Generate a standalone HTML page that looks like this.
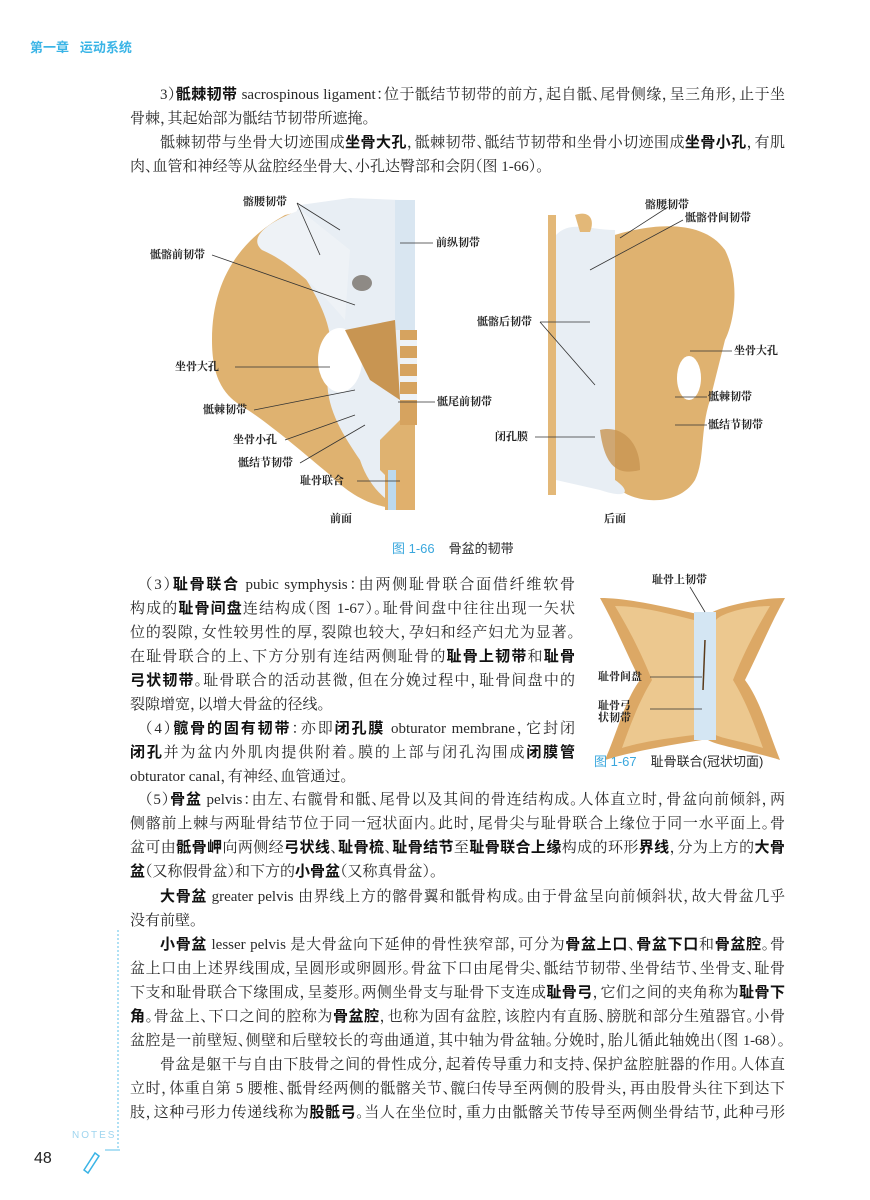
<!DOCTYPE html>
<html><head><meta charset="utf-8">
<style>
html,body{margin:0;padding:0;background:#fff;}
body{width:870px;height:1200px;position:relative;overflow:hidden;font-family:"Liberation Serif","Noto Serif CJK SC",serif;color:#2a2a2a;}
.l{position:absolute;height:24px;line-height:24px;font-size:15px;overflow:hidden;white-space:normal;font-feature-settings:"halt";}
.j{text-align:justify;text-align-last:justify;}
b{font-family:"Liberation Sans","Noto Sans CJK SC",sans-serif;font-weight:bold;color:#111;font-feature-settings:"halt";}
.lab{position:absolute;font-family:"Liberation Serif","Noto Serif CJK SC",serif;font-weight:bold;font-size:11px;color:#222;white-space:nowrap;line-height:12px;}
.cap{position:absolute;font-family:"Liberation Sans","Noto Sans CJK SC",sans-serif;font-size:13px;white-space:nowrap;}
.cap span{color:#3aa7dd;margin-right:14px;}
</style></head><body>
<div style="position:absolute;left:30px;top:37px;font-family:'Liberation Sans','Noto Sans CJK SC',sans-serif;font-weight:bold;font-size:13px;color:#3ab4e6;">第一章&nbsp;&nbsp;&nbsp;运动系统</div>

<svg width="870" height="1200" style="position:absolute;left:0;top:0">
<!-- Fig 1-66 left -->
<path d="M285,215 C240,240 212,280 212,340 C212,380 225,395 240,405 C265,420 300,450 330,475 C350,495 375,510 405,508 L415,470 L415,200 L350,200 Z" fill="#dfb270"/>
<path d="M300,205 L350,198 L400,200 L400,420 L380,440 L380,470 L400,490 L405,508 C390,505 370,490 360,460 C340,430 320,400 330,360 C335,330 320,300 300,270 C290,250 285,230 300,205Z" fill="#e8eef4"/>
<path d="M300,210 C260,225 250,240 262,250 C290,262 320,290 345,320 L350,250 Z" fill="#eef2f6"/>
<ellipse cx="340" cy="360" rx="22" ry="32" fill="#fff"/>
<rect x="395" y="200" width="20" height="130" fill="#d9e6f1"/>
<rect x="400" y="330" width="17" height="95" fill="#d6a35f"/>
<g fill="#eef2f6"><rect x="400" y="340" width="17" height="6"/><rect x="400" y="358" width="17" height="6"/><rect x="400" y="376" width="17" height="6"/><rect x="400" y="394" width="17" height="6"/></g>
<ellipse cx="362" cy="283" rx="10" ry="8" fill="#8e8a85"/>
<path d="M345,330 L395,320 L400,400 L370,380 Z" fill="#c89552"/>
<rect x="385" y="470" width="30" height="40" fill="#e0b06d"/>
<rect x="388" y="470" width="8" height="40" fill="#bcd9ee"/>
<!-- Fig 1-66 right -->
<path d="M600,240 C640,225 700,215 725,250 C740,280 735,320 725,340 L710,400 C700,430 705,460 695,480 C680,505 640,505 620,490 L600,480 Z" fill="#dfb270"/>
<rect x="548" y="215" width="8" height="280" fill="#e3b878"/>
<path d="M556,235 C570,220 590,230 615,230 L615,480 C630,490 630,500 600,490 L556,480 Z" fill="#e8eef4"/>
<path d="M575,215 C590,210 595,220 590,232 L580,232Z" fill="#e3b878"/>
<ellipse cx="689" cy="378" rx="12" ry="22" fill="#fff"/>
<path d="M600,430 C620,425 640,440 640,470 C620,475 605,470 600,430Z" fill="#c89552" opacity=".8"/>
<g stroke="#333" stroke-width="0.8" fill="none">
<path d="M297,203 L340,230 M297,203 L320,255"/>
<path d="M212,255 L355,305"/>
<path d="M400,243 L433,243"/>
<path d="M235,367 L330,367"/>
<path d="M254,410 L355,390"/>
<path d="M398,402 L435,402"/>
<path d="M285,440 L355,415"/>
<path d="M300,463 L365,425"/>
<path d="M357,481 L400,481"/>
<path d="M668,207 L620,238"/>
<path d="M683,220 L590,270"/>
<path d="M540,322 L590,322 M540,322 L595,385"/>
<path d="M690,351 L732,351"/>
<path d="M675,397 L707,397"/>
<path d="M675,425 L707,425"/>
<path d="M535,437 L595,437"/>
</g>
<!-- Fig 1-67 -->
<path d="M600,598 C630,598 670,608 702,615 L702,740 C670,745 630,752 605,760 C618,730 625,700 640,680 C625,650 615,625 600,598Z" fill="#dca865"/>
<path d="M785,598 C755,598 715,608 708,615 L708,740 C715,745 755,752 780,760 C768,730 760,700 745,680 C760,650 770,625 785,598Z" fill="#dca865"/>
<path d="M615,606 C640,606 670,614 694,620 L694,735 C670,738 640,742 622,748 C632,720 640,700 652,680 C640,650 628,628 615,606Z" fill="#ecc88f"/>
<path d="M770,606 C745,606 720,614 716,620 L716,735 C720,738 745,742 763,748 C753,720 745,700 733,680 C745,650 757,628 770,606Z" fill="#ecc88f"/>
<rect x="694" y="612" width="22" height="128" fill="#d4e6f3"/>
<path d="M705,640 L703,690" stroke="#5a3a1a" stroke-width="1.5"/>
<g stroke="#333" stroke-width="0.8"><path d="M690,587 L705,612 M650,677 L702,677 M650,709 L702,709"/></g>
<path d="M118,930 L118,1150" stroke="#5fc0ea" stroke-width="1" stroke-dasharray="2,2"/>
<path d="M105,1150 L120,1150" stroke="#5fc0ea" stroke-width="1"/>
<path d="M84,1170 L95,1153 L99,1156 L88,1173 Z" fill="none" stroke="#3ab4e6" stroke-width="1.5"/>
</svg>

<div class="lab" style="left:243px;top:196px">髂腰韧带</div>
<div class="lab" style="left:150px;top:249px">骶髂前韧带</div>
<div class="lab" style="left:436px;top:237px">前纵韧带</div>
<div class="lab" style="left:175px;top:361px">坐骨大孔</div>
<div class="lab" style="left:203px;top:404px">骶棘韧带</div>
<div class="lab" style="left:437px;top:396px">骶尾前韧带</div>
<div class="lab" style="left:233px;top:434px">坐骨小孔</div>
<div class="lab" style="left:238px;top:457px">骶结节韧带</div>
<div class="lab" style="left:300px;top:475px">耻骨联合</div>
<div class="lab" style="left:330px;top:513px">前面</div>
<div class="lab" style="left:645px;top:199px">髂腰韧带</div>
<div class="lab" style="left:685px;top:212px">骶髂骨间韧带</div>
<div class="lab" style="left:477px;top:316px">骶髂后韧带</div>
<div class="lab" style="left:734px;top:345px">坐骨大孔</div>
<div class="lab" style="left:708px;top:391px">骶棘韧带</div>
<div class="lab" style="left:708px;top:419px">骶结节韧带</div>
<div class="lab" style="left:495px;top:431px">闭孔膜</div>
<div class="lab" style="left:604px;top:513px">后面</div>
<div class="cap" style="left:392px;top:538px"><span>图 1-66</span>骨盆的韧带</div>

<div class="lab" style="left:652px;top:574px">耻骨上韧带</div>
<div class="lab" style="left:598px;top:671px">耻骨间盘</div>
<div class="lab" style="left:598px;top:700px">耻骨弓<br>状韧带</div>
<div class="cap" style="left:594px;top:751px"><span>图 1-67</span>耻骨联合(冠状切面)</div>

<div class="l j" style="left:160px;top:83px;width:625px">3）<b>骶棘韧带</b> sacrospinous ligament：位于骶结节韧带的前方，起自骶、尾骨侧缘，呈三角形，止于坐</div>
<div class="l" style="left:130px;top:107px;width:655px">骨棘，其起始部为骶结节韧带所遮掩。</div>
<div class="l j" style="left:160px;top:131px;width:625px">骶棘韧带与坐骨大切迹围成<b>坐骨大孔</b>，骶棘韧带、骶结节韧带和坐骨小切迹围成<b>坐骨小孔</b>，有肌</div>
<div class="l" style="left:130px;top:155px;width:655px">肉、血管和神经等从盆腔经坐骨大、小孔达臀部和会阴（图 1-66）。</div>

<div class="l j" style="left:145px;top:573px;width:430px">（3）<b>耻骨联合</b> pubic symphysis：由两侧耻骨联合面借纤维软骨</div>
<div class="l j" style="left:130px;top:597px;width:445px">构成的<b>耻骨间盘</b>连结构成（图 1-67）。耻骨间盘中往往出现一矢状</div>
<div class="l j" style="left:130px;top:621px;width:445px">位的裂隙，女性较男性的厚，裂隙也较大，孕妇和经产妇尤为显著。</div>
<div class="l j" style="left:130px;top:645px;width:445px">在耻骨联合的上、下方分别有连结两侧耻骨的<b>耻骨上韧带</b>和<b>耻骨</b></div>
<div class="l j" style="left:130px;top:669px;width:445px"><b>弓状韧带</b>。耻骨联合的活动甚微，但在分娩过程中，耻骨间盘中的</div>
<div class="l" style="left:130px;top:693px;width:445px">裂隙增宽，以增大骨盆的径线。</div>
<div class="l j" style="left:145px;top:717px;width:430px">（4）<b>髋骨的固有韧带</b>：亦即<b>闭孔膜</b> obturator membrane，它封闭</div>
<div class="l j" style="left:130px;top:741px;width:445px"><b>闭孔</b>并为盆内外肌肉提供附着。膜的上部与闭孔沟围成<b>闭膜管</b></div>
<div class="l" style="left:130px;top:765px;width:445px">obturator canal，有神经、血管通过。</div>

<div class="l j" style="left:145px;top:788px;width:640px">（5）<b>骨盆</b> pelvis：由左、右髋骨和骶、尾骨以及其间的骨连结构成。人体直立时，骨盆向前倾斜，两</div>
<div class="l j" style="left:130px;top:812px;width:655px">侧髂前上棘与两耻骨结节位于同一冠状面内。此时，尾骨尖与耻骨联合上缘位于同一水平面上。骨</div>
<div class="l j" style="left:130px;top:836px;width:655px">盆可由<b>骶骨岬</b>向两侧经<b>弓状线</b>、<b>耻骨梳</b>、<b>耻骨结节</b>至<b>耻骨联合上缘</b>构成的环形<b>界线</b>，分为上方的<b>大骨</b></div>
<div class="l" style="left:130px;top:860px;width:655px"><b>盆</b>（又称假骨盆）和下方的<b>小骨盆</b>（又称真骨盆）。</div>
<div class="l j" style="left:160px;top:885px;width:625px"><b>大骨盆</b> greater pelvis 由界线上方的髂骨翼和骶骨构成。由于骨盆呈向前倾斜状，故大骨盆几乎</div>
<div class="l" style="left:130px;top:909px;width:655px">没有前壁。</div>
<div class="l j" style="left:160px;top:933px;width:625px"><b>小骨盆</b> lesser pelvis 是大骨盆向下延伸的骨性狭窄部，可分为<b>骨盆上口</b>、<b>骨盆下口</b>和<b>骨盆腔</b>。骨</div>
<div class="l j" style="left:130px;top:957px;width:655px">盆上口由上述界线围成，呈圆形或卵圆形。骨盆下口由尾骨尖、骶结节韧带、坐骨结节、坐骨支、耻骨</div>
<div class="l j" style="left:130px;top:981px;width:655px">下支和耻骨联合下缘围成，呈菱形。两侧坐骨支与耻骨下支连成<b>耻骨弓</b>，它们之间的夹角称为<b>耻骨下</b></div>
<div class="l j" style="left:130px;top:1005px;width:655px"><b>角</b>。骨盆上、下口之间的腔称为<b>骨盆腔</b>，也称为固有盆腔，该腔内有直肠、膀胱和部分生殖器官。小骨</div>
<div class="l j" style="left:130px;top:1029px;width:655px;letter-spacing:-0.3px">盆腔是一前壁短、侧壁和后壁较长的弯曲通道，其中轴为骨盆轴。分娩时，胎儿循此轴娩出（图 1-68）。</div>
<div class="l j" style="left:160px;top:1053px;width:625px">骨盆是躯干与自由下肢骨之间的骨性成分，起着传导重力和支持、保护盆腔脏器的作用。人体直</div>
<div class="l j" style="left:130px;top:1077px;width:655px">立时，体重自第 5 腰椎、骶骨经两侧的骶髂关节、髋臼传导至两侧的股骨头，再由股骨头往下到达下</div>
<div class="l j" style="left:130px;top:1101px;width:655px">肢，这种弓形力传递线称为<b>股骶弓</b>。当人在坐位时，重力由骶髂关节传导至两侧坐骨结节，此种弓形</div>

<div style="position:absolute;left:72px;top:1130px;font-family:'Liberation Sans',sans-serif;font-size:10px;letter-spacing:2px;color:#9fd5ef;">NOTES</div>
<div style="position:absolute;left:34px;top:1150px;font-family:'Liberation Sans',sans-serif;font-size:16px;color:#222;">48</div>
</body></html>
